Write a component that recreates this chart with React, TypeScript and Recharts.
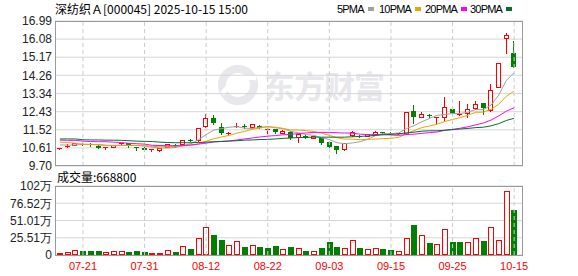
import { ComposedChart, Bar, Line, XAxis, YAxis, CartesianGrid, ReferenceLine } from "recharts";

const RED = "#ff0000";
const GREEN = "#008000";

const dates = [
  "07-16", "07-17", "07-18", "07-21", "07-22", "07-23", "07-24", "07-25", "07-28", "07-29", "07-30", "07-31",
  "08-01", "08-04", "08-05", "08-06", "08-07", "08-08", "08-11", "08-12", "08-13", "08-14", "08-15", "08-18",
  "08-19", "08-20", "08-21", "08-22", "08-25", "08-26", "08-27", "08-28", "08-29", "09-01", "09-02", "09-03",
  "09-04", "09-05", "09-08", "09-09", "09-10", "09-11", "09-12", "09-15", "09-16", "09-17", "09-18", "09-19",
  "09-22", "09-23", "09-24", "09-25", "09-26", "09-29", "09-30", "10-09", "10-10", "10-13", "10-14", "10-15",
];

const open = [
  10.57, 10.70, 10.78, 10.77, 10.82, 10.72, 10.59, 10.66, 10.81, 10.84, 10.67, 10.63,
  10.48, 10.48, 10.67, 10.77, 10.79, 11.03, 11.01, 11.72, 12.10, 11.65, 11.33, 11.66,
  11.71, 11.65, 11.73, 11.50, 11.56, 11.38, 11.42, 11.14, 11.22, 11.12, 11.09, 10.92,
  10.70, 10.54, 11.26, 11.23, 11.21, 11.29, 11.39, 11.38, 11.33, 11.34, 12.48, 12.18,
  12.25, 12.10, 12.15, 12.55, 12.30, 12.35, 12.60, 12.85, 12.51, 13.65, 16.12, 15.39,
];
const close = [
  10.62, 10.71, 10.86, 10.83, 10.77, 10.62, 10.65, 10.75, 10.87, 10.74, 10.62, 10.51,
  10.55, 10.59, 10.79, 10.72, 11.01, 11.00, 11.59, 12.10, 11.86, 11.34, 11.38, 11.72,
  11.70, 11.79, 11.63, 11.58, 11.40, 11.48, 11.10, 11.31, 11.11, 11.20, 10.87, 10.67,
  10.50, 10.84, 11.40, 11.20, 11.29, 11.42, 11.36, 11.36, 11.35, 12.43, 12.15, 12.30,
  12.22, 12.15, 12.65, 12.38, 12.32, 12.55, 12.80, 12.60, 13.52, 14.86, 16.28, 14.69,
];
const high = [
  10.63, 10.80, 10.88, 10.85, 10.84, 10.74, 10.66, 10.76, 10.88, 10.86, 10.68, 10.64,
  10.56, 10.60, 10.81, 10.82, 11.02, 11.08, 11.60, 12.31, 12.26, 11.86, 11.40, 11.84,
  11.80, 11.81, 11.76, 11.60, 11.58, 11.52, 11.45, 11.32, 11.24, 11.22, 11.12, 10.94,
  10.72, 10.86, 11.48, 11.27, 11.30, 11.44, 11.43, 11.42, 11.38, 12.44, 12.77, 12.43,
  12.30, 12.16, 13.17, 12.63, 12.97, 12.80, 12.97, 12.86, 13.82, 14.87, 16.40, 15.99,
];
const low = [
  10.56, 10.64, 10.76, 10.75, 10.70, 10.60, 10.57, 10.64, 10.79, 10.68, 10.52, 10.48,
  10.46, 10.46, 10.65, 10.66, 10.77, 10.95, 10.98, 11.68, 11.82, 11.30, 11.28, 11.64,
  11.62, 11.63, 11.60, 11.36, 11.36, 11.35, 11.07, 10.92, 11.09, 11.10, 10.79, 10.64,
  10.37, 10.52, 11.22, 11.16, 11.19, 11.27, 11.33, 11.32, 11.30, 11.33, 11.85, 12.16,
  12.15, 11.85, 12.01, 12.31, 12.28, 12.15, 12.58, 12.31, 12.45, 13.65, 15.36, 14.69,
];

const ma5 = [
  10.76, 10.75, 10.76, 10.78, 10.79, 10.78, 10.74, 10.72, 10.73, 10.73, 10.73, 10.70,
  10.65, 10.60, 10.61, 10.63, 10.73, 10.82, 11.02, 11.28, 11.51, 11.58, 11.65, 11.68,
  11.60, 11.59, 11.64, 11.68, 11.62, 11.58, 11.44, 11.37, 11.28, 11.24, 11.12, 11.03,
  10.87, 10.82, 10.86, 10.92, 11.05, 11.23, 11.33, 11.33, 11.36, 11.58, 11.73, 11.92,
  12.09, 12.25, 12.29, 12.34, 12.34, 12.41, 12.54, 12.53, 12.76, 13.27, 14.01, 14.39,
];
const ma10 = [
  10.90, 10.88, 10.84, 10.80, 10.78, 10.76, 10.74, 10.74, 10.74, 10.74, 10.74, 10.72,
  10.69, 10.67, 10.67, 10.68, 10.72, 10.74, 10.81, 10.95, 11.07, 11.16, 11.24, 11.35,
  11.44, 11.55, 11.61, 11.67, 11.65, 11.59, 11.51, 11.51, 11.48, 11.43, 11.35, 11.24,
  11.12, 11.05, 11.05, 11.02, 11.04, 11.05, 11.08, 11.09, 11.14, 11.32, 11.48, 11.63,
  11.71, 11.80, 11.94, 12.04, 12.13, 12.25, 12.40, 12.41, 12.55, 12.81, 13.21, 13.47,
];
const ma20 = [
  11.00, 10.99, 10.99, 10.95, 10.93, 10.92, 10.92, 10.90, 10.88, 10.84, 10.82, 10.80,
  10.74, 10.73, 10.72, 10.72, 10.72, 10.76, 10.80, 10.85, 10.91, 10.94, 10.96, 11.01,
  11.06, 11.11, 11.16, 11.20, 11.23, 11.27, 11.29, 11.33, 11.36, 11.39, 11.39, 11.39,
  11.37, 11.36, 11.35, 11.30, 11.28, 11.28, 11.28, 11.26, 11.24, 11.28, 11.30, 11.34,
  11.38, 11.41, 11.49, 11.54, 11.60, 11.67, 11.77, 11.86, 12.01, 12.22, 12.46, 12.63,
];
const ma30 = [
  11.06, 11.06, 11.06, 11.02, 11.01, 11.01, 11.00, 11.00, 10.99, 10.97, 10.95, 10.94,
  10.93, 10.90, 10.88, 10.87, 10.87, 10.87, 10.88, 10.90, 10.92, 10.93, 10.95, 10.97,
  11.00, 11.01, 11.03, 11.04, 11.06, 11.09, 11.11, 11.13, 11.14, 11.15, 11.15, 11.15,
  11.15, 11.15, 11.17, 11.19, 11.21, 11.24, 11.27, 11.29, 11.31, 11.37, 11.40, 11.45,
  11.47, 11.47, 11.50, 11.53, 11.56, 11.59, 11.63, 11.65, 11.72, 11.83, 11.99, 12.10,
];

const volume = [
  30000, 44000, 74000, 59000, 59000, 59000, 40000, 55000, 55000, 44000, 59000, 44000,
  25000, 25000, 69000, 49000, 128000, 93000, 256000, 419000, 296000, 222000, 143000, 207000,
  118000, 143000, 118000, 108000, 138000, 89000, 123000, 104000, 64000, 59000, 108000, 197000,
  123000, 104000, 222000, 108000, 89000, 104000, 89000, 79000, 59000, 247000, 444000, 291000,
  182000, 163000, 380000, 197000, 197000, 197000, 247000, 211000, 410000, 222000, 942000, 668800,
];
// 1 = red (up) volume bar, 0 = green
const volumeUp = [
  1, 1, 1, 0, 0, 0, 1, 1, 1, 0, 0, 0,
  1, 1, 1, 0, 1, 0, 1, 1, 0, 0, 1, 1,
  0, 1, 0, 0, 0, 1, 0, 1, 0, 1, 0, 0,
  0, 1, 1, 0, 1, 1, 0, 0, 1, 1, 0, 1,
  0, 1, 1, 0, 0, 1, 1, 0, 1, 1, 1, 0,
];

const priceTicks = [9.7, 10.61, 11.52, 12.43, 13.34, 14.26, 15.17, 16.08, 16.99];
const volumeTicks = [0, 255075, 510150, 765225, 1020300];
const volumeTickLabels = ["0", "25.51万", "51.01万", "76.52万", "102万"];
const dateTicks = ["07-21", "07-31", "08-12", "08-22", "09-03", "09-15", "09-25", "10-15"];

const legendItems = [
  { name: "5PMA", color: "#a0a0a0", left: 337 },
  { name: "10PMA", color: "#f2a200", left: 379 },
  { name: "20PMA", color: "#ff00ff", left: 425 },
  { name: "30PMA", color: "#00702e", left: 470 },
];

const data = dates.map((d, i) => ({
  date: d,
  open: open[i],
  close: close[i],
  high: high[i],
  low: low[i],
  range: [low[i], high[i]],
  ma5: ma5[i],
  ma10: ma10[i],
  ma20: ma20[i],
  ma30: ma30[i],
  volume: volume[i],
  volumeUp: volumeUp[i],
}));

const axisFont = { fontFamily: "Liberation Sans, Arial, sans-serif", fontSize: 12, fill: "#222" };

function Candle(props: any) {
  const { x, y, width, height, payload } = props;
  if (x == null || y == null || !payload) return null;
  const { open: o, close: c, high: h, low: l } = payload;
  const top = Math.min(y, y + height);
  const bottom = Math.max(y, y + height);
  const span = h - l;
  const toY = (v: number) => (span > 0 ? top + ((h - v) / span) * (bottom - top) : top);
  const up = c >= o;
  const color = up ? RED : GREEN;
  const left = Math.round(x);
  const w = Math.round(width);
  const cx = left + Math.floor(w / 2) + 0.5;
  const bTop = Math.round(toY(Math.max(o, c)));
  const bBot = Math.round(toY(Math.min(o, c)));
  const hi = Math.round(top);
  const lo = Math.round(bottom);
  if (up) {
    return (
      <g shapeRendering="crispEdges">
        <line x1={cx} x2={cx} y1={hi} y2={bTop} stroke={color} />
        <line x1={cx} x2={cx} y1={bBot} y2={lo + 1} stroke={color} />
        {bBot - bTop < 2 ? (
          <rect x={left} y={bTop} width={w} height={Math.max(bBot - bTop, 1)} fill={color} />
        ) : (
          <rect x={left + 0.5} y={bTop + 0.5} width={w - 1} height={bBot - bTop} fill="#fff" stroke={color} />
        )}
      </g>
    );
  }
  return (
    <g shapeRendering="crispEdges">
      <line x1={cx} x2={cx} y1={hi} y2={lo + 1} stroke={color} />
      <rect x={left} y={bTop} width={w} height={Math.max(bBot - bTop, 1)} fill={color} />
    </g>
  );
}

function VolumeBar(props: any) {
  const { x, y, width, height, payload } = props;
  if (x == null || y == null || !payload) return null;
  const left = Math.round(x);
  const w = Math.round(width);
  const t = Math.round(y);
  const b = Math.round(y + height);
  if (payload.volumeUp) {
    if (b - t < 3) return <rect x={left} y={t} width={w} height={Math.max(b - t, 1)} fill={RED} shapeRendering="crispEdges" />;
    return (
      <rect x={left + 0.5} y={t + 0.5} width={w - 1} height={b - t - 1} fill="#fff" stroke={RED} shapeRendering="crispEdges" />
    );
  }
  return <rect x={left} y={t} width={w} height={b - t} fill={GREEN} shapeRendering="crispEdges" />;
}

export default function App() {
  return (
    <div
      style={{
        position: "absolute",
        left: 0,
        top: 0,
        width: 578,
        height: 276,
        background: "#fff",
        fontFamily: "Liberation Sans, Arial, sans-serif",
        overflow: "hidden",
      }}
    >
      {/* watermark */}
      <div style={{ position: "absolute", left: 216, top: 64 }}>
        <svg width={44} height={42}>
          <circle cx={22} cy={21} r={16} fill="none" stroke="#e7e7ec" strokeWidth={8} />
          <path d="M6 30 Q22 10 40 14" fill="none" stroke="#fff" strokeWidth={5} />
        </svg>
      </div>
      <div
        style={{
          position: "absolute",
          left: 264,
          top: 62,
          fontSize: 31,
          fontWeight: 700,
          color: "#e7e7ec",
          fontFamily: "Noto Sans CJK SC",
          letterSpacing: -1,
          whiteSpace: "nowrap",
        }}
      >
        东方财富
      </div>

      <div
        style={{
          position: "absolute",
          left: 55,
          top: 1,
          fontSize: 12,
          lineHeight: "16px",
          color: "#000",
          fontFamily: "Noto Sans CJK SC",
          whiteSpace: "nowrap",
        }}
      >
        深纺织Ａ[000045] 2025-10-15 15:00
      </div>
      {legendItems.map((it) => (
        <div
          key={it.name}
          style={{
            position: "absolute",
            left: it.left,
            top: 2,
            fontSize: 11,
            lineHeight: "14px",
            letterSpacing: -0.8,
            color: "#000",
            whiteSpace: "nowrap",
            display: "flex",
            alignItems: "center",
          }}
        >
          {it.name}
          <span style={{ display: "inline-block", width: 6, height: 4, background: it.color, marginLeft: 4 }} />
        </div>
      ))}

      <div style={{ position: "absolute", left: 0, top: 0 }}>
        <ComposedChart width={578} height={180} data={data} margin={{ top: 21, right: 55, bottom: 14, left: 0 }}>
          <CartesianGrid vertical={false} stroke="#d6d6d6" />
          <XAxis dataKey="date" hide padding={{ left: 1, right: 5 }} />
          <YAxis
            domain={[9.7, 16.99]}
            ticks={priceTicks}
            interval={0}
            width={55}
            tickSize={0}
            tickMargin={3}
            tickLine={false}
            axisLine={false}
            tick={axisFont}
            tickFormatter={(v: number) => v.toFixed(2)}
          />
          {dateTicks.map((d) => (
            <ReferenceLine key={d} x={d} stroke="#cccccc" strokeDasharray="4 3" />
          ))}
          <Bar dataKey="range" barSize={5} shape={<Candle />} isAnimationActive={false} />
          <Line dataKey="ma5" type="linear" stroke="#a0a0a0" strokeWidth={1} dot={false} isAnimationActive={false} />
          <Line dataKey="ma10" type="linear" stroke="#f2a200" strokeWidth={1} dot={false} isAnimationActive={false} />
          <Line dataKey="ma20" type="linear" stroke="#ff00ff" strokeWidth={1} dot={false} isAnimationActive={false} />
          <Line dataKey="ma30" type="linear" stroke="#00702e" strokeWidth={1} dot={false} isAnimationActive={false} />
        </ComposedChart>
      </div>
      <div
        style={{
          position: "absolute",
          left: 55,
          top: 21,
          width: 468,
          height: 145,
          border: "1px solid #9a9a9a",
          boxSizing: "border-box",
          pointerEvents: "none",
        }}
      />

      <div
        style={{
          position: "absolute",
          left: 57,
          top: 169,
          fontSize: 12,
          lineHeight: "16px",
          color: "#000",
          fontFamily: "Noto Sans CJK SC",
          whiteSpace: "nowrap",
        }}
      >
        成交量:668800
      </div>
      <div style={{ position: "absolute", left: 0, top: 170 }}>
        <ComposedChart width={578} height={106} data={data} margin={{ top: 16, right: 55, bottom: 0, left: 0 }}>
          <CartesianGrid vertical={false} stroke="#d6d6d6" />
          <XAxis
            dataKey="date"
            ticks={dateTicks}
            interval={0}
            height={21}
            padding={{ left: 1, right: 5 }}
            tickLine={false}
            axisLine={false}
            tickSize={0}
            tickMargin={7}
            tick={{ fontFamily: "Liberation Sans, Arial, sans-serif", fontSize: 11, fill: RED }}
          />
          <YAxis
            domain={[0, 1020300]}
            ticks={volumeTicks}
            interval={0}
            width={55}
            tickSize={0}
            tickMargin={3}
            tickLine={false}
            axisLine={false}
            tick={axisFont}
            tickFormatter={(_v: number, i: number) => volumeTickLabels[i]}
          />
          {dateTicks.map((d) => (
            <ReferenceLine key={d} x={d} stroke="#cccccc" strokeDasharray="4 3" />
          ))}
          <Bar dataKey="volume" barSize={6} shape={<VolumeBar />} isAnimationActive={false} />
        </ComposedChart>
      </div>
      <div
        style={{
          position: "absolute",
          left: 55,
          top: 186,
          width: 468,
          height: 70,
          border: "1px solid #9a9a9a",
          boxSizing: "border-box",
          pointerEvents: "none",
        }}
      />
    </div>
  );
}
